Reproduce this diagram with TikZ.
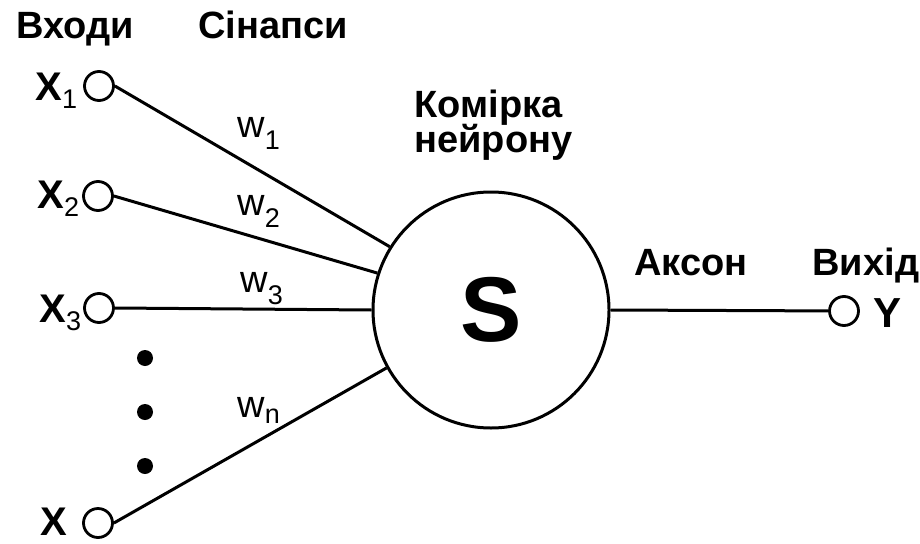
\documentclass[tikz,border=0pt]{standalone}
\usepackage{fontspec}
\setmainfont{Liberation Sans}

% index set below the base line
\newcommand\xsub[1]{\raisebox{-8pt}{\fontsize{27}{27}\mdseries\selectfont #1}}
\newcommand\wsub[2][-12pt]{\raisebox{#1}{\fontsize{27}{27}\selectfont #2}}

\begin{document}
\begin{tikzpicture}
  [x=1pt,y=-1pt,line width=3pt,
   term/.style={circle,draw,line width=2.8pt,minimum size=29pt,inner sep=0pt},
   dot/.style={circle,fill,minimum size=16pt,inner sep=0pt},
   head/.style={anchor=base west,inner sep=0pt,font=\fontsize{38}{38}\selectfont\bfseries},
   xlab/.style={anchor=base west,inner sep=0pt,font=\fontsize{40}{40}\selectfont\bfseries},
   wlab/.style={anchor=base west,inner sep=0pt,font=\fontsize{38}{38}\selectfont}]
  \useasboundingbox (0,0) rectangle (920,543);

  % headings
  \node[head] (inp) at (15,38) {Входи};
  \node[head] (syn) at (197,38) {Сінапси};
  \node[head] (cell) at (413,117) {Комірка};
  \node[head] (cell2) at (413,152) {нейрону};
  \node[head] (axon) at (633,275) {Аксон};
  \node[head] (out) at (811,275) {Вихід};

  % inputs and output
  \node[term] (x1) at (99,86) {};
  \node[term] (x2) at (98,196) {};
  \node[term] (x3) at (99,308) {};
  \node[term] (xn) at (98,523) {};
  \node[term] (y) at (844,311) {};

  \node[xlab] (lx1) at (34,100) {X\xsub{1}};
  \node[xlab] (lx2) at (36,208) {X\xsub{2}};
  \node[xlab] (lx3) at (38,322) {X\xsub{3}};
  \node[xlab] (lxn) at (39,535) {X};
  \node[xlab,font=\fontsize{42}{42}\selectfont\bfseries] (ly) at (872,327) {Y};

  \foreach \i/\y in {1/358,2/412,3/466}
    \node[dot] (d\i) at (145,\y) {};

  % the cell
  \node[circle,draw,line width=3pt,minimum size=236pt,inner sep=0pt,
        font=\fontsize{92}{92}\selectfont\bfseries] (neuron) at (491,310) {S};

  % synapses
  \foreach \from/\ang in {x1/148.5,x2/162,x3/180,xn/209.5}
    \draw (\from.east) -- (neuron.\ang);
  \draw (neuron.east) -- (y);

  \node[wlab] (w1) at (236,137) {w\wsub{1}};
  \node[wlab] (w2) at (236,215) {w\wsub{2}};
  \node[wlab] (w3) at (239,292) {w\wsub{3}};
  \node[wlab] (wn) at (236,417) {w\wsub[-6pt]{n}};
\end{tikzpicture}
\end{document}
